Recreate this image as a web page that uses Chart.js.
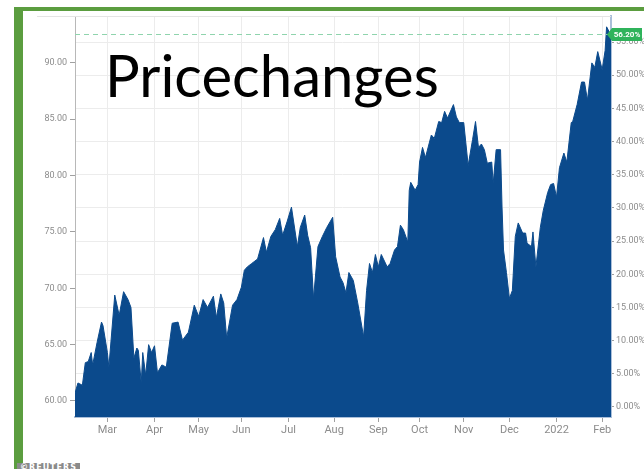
<!DOCTYPE html>
<html>
<head>
<meta charset="utf-8">
<title>Pricechanges</title>
<script src="https://cdn.jsdelivr.net/npm/chart.js@4.4.0/dist/chart.umd.min.js"></script>
<style>
  html, body { margin: 0; padding: 0; background: #fff; }
  body { width: 644px; height: 469px; position: relative; overflow: hidden; }
  #wrap { position: absolute; left: 0; top: 0; width: 644px; height: 469px; }
  .frame-top { position: absolute; left: 14px; top: 7px; width: 630px; height: 4px; background: #5b9d3f; }
  .frame-left { position: absolute; left: 14px; top: 7px; width: 9px; height: 462px; background: #5b9d3f; }
  .credit { position: absolute; left: 17px; top: 463px; height: 10px; padding: 0 3px; background: #8a8a8a;
            color: #fff; font: bold 8px 'DejaVu Sans', sans-serif; line-height: 10px; letter-spacing: 1px; }
</style>
</head>
<body>
<div id="wrap"><canvas id="grafico" width="644" height="469"></canvas></div>
<div class="frame-top"></div>
<div class="frame-left"></div>
<div class="credit">©REUTERS</div>
<script>
// dados (dia desde o início, preço)
const days = [
    0, 2, 5, 7, 9, 11, 12, 15, 18, 19,
    22, 23, 27, 30, 33, 36, 38, 40, 42, 43,
    45, 46, 48, 50, 52, 54, 56, 59, 62, 66,
    70, 73, 77, 81, 84, 87, 90, 94, 96, 99,
    101, 103, 107, 110, 113, 115, 117, 120, 124, 128,
    130, 133, 136, 139, 141, 144, 147, 151, 153, 156,
    158, 160, 162, 165, 168, 171, 175, 177, 180, 182,
    184, 186, 189, 192, 196, 198, 200, 202, 204, 206,
    208, 212, 214, 217, 219, 221, 223, 226, 227, 228,
    231, 233, 234, 236, 238, 242, 244, 247, 249, 251,
    253, 257, 259, 261, 264, 267, 270, 272, 274, 276,
    278, 280, 283, 284, 286, 289, 290, 291, 293, 295,
    297, 299, 301, 304, 306, 307, 310, 311, 313, 316,
    318, 321, 323, 325, 327, 329, 332, 334, 337, 338,
    341, 344, 346, 348, 351, 353, 355, 358, 360, 361,
    363, 364
];
const prices = [
    60.7, 61.6, 61.4, 63.4, 63.5, 64.3, 63.2, 65.2, 67.0, 66.7,
    64.3, 63.0, 69.4, 67.6, 69.7, 69.0, 68.3, 63.8, 64.7, 64.5,
    61.6, 64.3, 62.3, 65.0, 64.3, 64.9, 62.5, 63.2, 63.0, 66.9,
    67.0, 65.4, 66.1, 68.5, 67.5, 69.0, 68.3, 69.3, 67.4, 69.5,
    68.7, 65.6, 68.5, 69.0, 70.1, 71.6, 71.9, 72.2, 72.6, 74.5,
    73.2, 74.6, 75.2, 76.2, 74.7, 75.9, 77.2, 73.7, 75.4, 76.5,
    74.7, 73.6, 69.1, 73.7, 74.6, 75.4, 76.3, 72.8, 71.0, 70.5,
    69.6, 71.4, 70.7, 68.7, 65.7, 69.8, 72.2, 71.4, 73.0, 71.9,
    73.0, 71.9, 72.2, 73.4, 73.7, 75.6, 75.2, 74.1, 78.7, 79.4,
    78.7, 79.2, 81.2, 82.5, 81.6, 83.6, 83.3, 84.8, 84.7, 85.7,
    85.1, 86.3, 85.2, 84.7, 84.7, 80.9, 83.2, 84.8, 82.5, 82.8,
    82.3, 81.1, 81.2, 79.3, 82.3, 82.3, 77.2, 73.4, 71.4, 69.1,
    69.8, 74.6, 75.8, 74.9, 74.9, 74.0, 73.7, 75.0, 71.9, 75.4,
    76.9, 78.5, 79.2, 79.3, 78.1, 80.7, 82.0, 81.2, 84.7, 84.8,
    86.3, 88.3, 88.3, 86.7, 90.0, 89.6, 91.0, 89.4, 91.1, 93.2,
    92.7, 92.6
];
const monthTicks = [22, 54, 84, 113, 145, 176, 206, 234, 264, 295, 327, 358];
const monthLabels = ['Mar', 'Apr', 'May', 'Jun', 'Jul', 'Aug', 'Sep', 'Oct', 'Nov', 'Dec', '2022', 'Feb'];
const priceTicks = [60, 65, 70, 75, 80, 85, 90];
const changeTicks = [0, 5, 10, 15, 20, 25, 30, 35, 40, 45, 50, 55];
const lastChange = 56.2;
const chartTitle = 'Pricechanges';

const points = days.map((d, i) => ({ x: d, y: prices[i] }));

Chart.defaults.font.family = 'Roboto';

// linha do topo, linha tracejada, etiqueta verde e título
const overlayPlugin = {
    id: 'overlay',
    beforeDatasetsDraw(chart) {
        const { ctx, chartArea } = chart;
        ctx.save();
        ctx.strokeStyle = '#e4e4e4';
        ctx.lineWidth = 1;
        ctx.beginPath();
        ctx.moveTo(chartArea.left - 38, chartArea.top + 0.5);
        ctx.lineTo(chartArea.right, chartArea.top + 0.5);
        ctx.stroke();
        ctx.restore();
    },
    afterDatasetsDraw(chart) {
        const { ctx, chartArea, scales } = chart;
        const y = Math.round(scales.y1.getPixelForValue(lastChange)) + 0.5;

        ctx.save();
        ctx.strokeStyle = '#8fd4ad';
        ctx.lineWidth = 1;
        ctx.setLineDash([5, 4]);
        ctx.beginPath();
        ctx.moveTo(chartArea.left, y);
        ctx.lineTo(chartArea.right, y);
        ctx.stroke();
        ctx.setLineDash([]);

        const x0 = chartArea.right - 4;
        const w = 35, h = 13;
        ctx.fillStyle = '#2fb35b';
        ctx.beginPath();
        ctx.moveTo(x0, y);
        ctx.lineTo(x0 + 5, y - h / 2);
        ctx.lineTo(x0 + w, y - h / 2);
        ctx.lineTo(x0 + w, y + h / 2);
        ctx.lineTo(x0 + 5, y + h / 2);
        ctx.closePath();
        ctx.fill();
        ctx.fillStyle = '#fff';
        ctx.font = 'bold 8px Roboto';
        ctx.textAlign = 'center';
        ctx.textBaseline = 'middle';
        ctx.fillText(lastChange.toFixed(2) + '%', x0 + 5 + (w - 5) / 2, y + 0.5);

        ctx.fillStyle = '#000';
        ctx.font = '58px Lato';
        ctx.textAlign = 'left';
        ctx.textBaseline = 'alphabetic';
        ctx.fillText(chartTitle, 105, 97);
        ctx.restore();
    }
};

const ctx = document.getElementById('grafico').getContext('2d');
new Chart(ctx, {
    type: 'line',
    data: {
        datasets: [{
            label: 'Price',
            data: points,
            yAxisID: 'y',
            fill: 'start',
            backgroundColor: '#0b4a8c',
            borderColor: '#0b4a8c',
            borderWidth: 1,
            pointRadius: 0,
            tension: 0
        }]
    },
    options: {
        responsive: false,
        animation: false,
        layout: { padding: { top: 16, left: 0, right: 0, bottom: 0 } },
        plugins: { legend: { display: false }, tooltip: { enabled: false } },
        scales: {
            x: {
                type: 'linear',
                min: 0,
                max: 364,
                afterBuildTicks: (axis) => { axis.ticks = monthTicks.map(v => ({ value: v })); },
                afterFit: (axis) => { axis.height = 52; },
                grid: { color: '#ececec', tickColor: '#a0a0a0', tickLength: 5 },
                border: { color: '#aabfda', width: 2 },
                ticks: {
                    color: '#8c8c8c',
                    font: { size: 11 },
                    maxRotation: 0,
                    autoSkip: false,
                    padding: 2,
                    callback: (v, i) => monthLabels[i]
                }
            },
            y: {
                position: 'left',
                min: 58.58,
                max: 94.16,
                afterBuildTicks: (axis) => { axis.ticks = priceTicks.map(v => ({ value: v })); },
                afterFit: (axis) => { axis.width = 75; },
                grid: { drawOnChartArea: false, tickColor: '#a0a0a0', tickLength: 5 },
                border: { color: '#b8b8b8', width: 1 },
                ticks: {
                    color: '#8c8c8c',
                    font: { size: 9 },
                    padding: 3,
                    callback: (v) => v.toFixed(2)
                }
            },
            y1: {
                position: 'right',
                min: -1.51,
                max: 58.92,
                afterBuildTicks: (axis) => { axis.ticks = changeTicks.map(v => ({ value: v })); },
                afterFit: (axis) => { axis.width = 33; },
                grid: { color: '#ececec', tickColor: '#a0a0a0', tickLength: 3 },
                border: { color: '#aabfda', width: 2 },
                ticks: {
                    color: '#8c8c8c',
                    font: { size: 9 },
                    padding: 2,
                    callback: (v) => v.toFixed(2) + '%'
                }
            }
        }
    },
    plugins: [overlayPlugin]
});
</script>
</body>
</html>
